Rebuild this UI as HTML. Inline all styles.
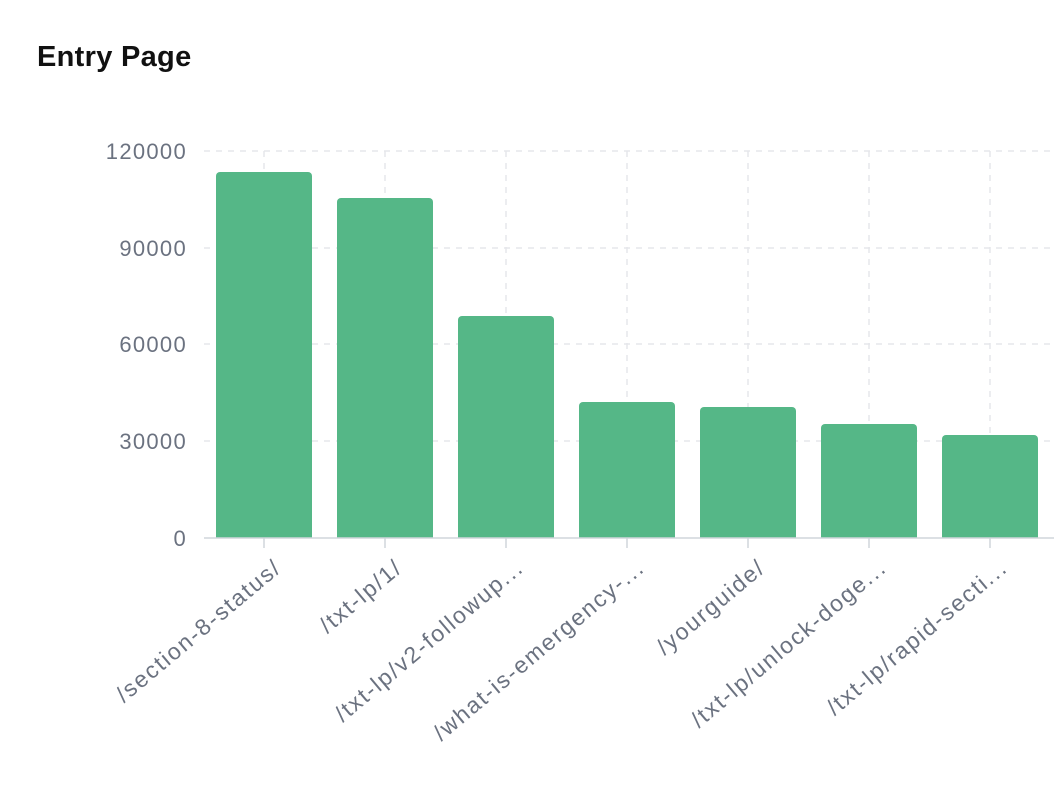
<!DOCTYPE html>
<html><head><meta charset="utf-8"><style>
body{margin:0;background:#fff;width:1054px;height:794px;overflow:hidden;font-family:"Liberation Sans",sans-serif}
</style></head><body>
<svg width="1054" height="794" xmlns="http://www.w3.org/2000/svg" font-family="Liberation Sans, sans-serif">
<text x="37" y="66" font-size="29" font-weight="bold" fill="#111" letter-spacing="0.3">Entry Page</text>
<g stroke="#e5e7eb" stroke-dasharray="6 6" stroke-width="1.5">
<line x1="204" x2="1054" y1="151" y2="151"/><line x1="204" x2="1054" y1="248" y2="248"/>
<line x1="204" x2="1054" y1="344" y2="344"/><line x1="204" x2="1054" y1="441" y2="441"/>
<line x1="264" x2="264" y1="151" y2="538"/><line x1="385" x2="385" y1="151" y2="538"/>
<line x1="506" x2="506" y1="151" y2="538"/><line x1="627" x2="627" y1="151" y2="538"/>
<line x1="748" x2="748" y1="151" y2="538"/><line x1="869" x2="869" y1="151" y2="538"/>
<line x1="990" x2="990" y1="151" y2="538"/>
</g>
<g fill="#55b787">
<path d="M216 538V176a4 4 0 0 1 4-4h88a4 4 0 0 1 4 4V538z"/>
<path d="M337 538V202a4 4 0 0 1 4-4h88a4 4 0 0 1 4 4V538z"/>
<path d="M458 538V320a4 4 0 0 1 4-4h88a4 4 0 0 1 4 4V538z"/>
<path d="M579 538V406a4 4 0 0 1 4-4h88a4 4 0 0 1 4 4V538z"/>
<path d="M700 538V411a4 4 0 0 1 4-4h88a4 4 0 0 1 4 4V538z"/>
<path d="M821 538V428a4 4 0 0 1 4-4h88a4 4 0 0 1 4 4V538z"/>
<path d="M942 538V439a4 4 0 0 1 4-4h88a4 4 0 0 1 4 4V538z"/>
</g>
<line x1="204" x2="1054" y1="538" y2="538" stroke="#d1d5db" stroke-width="1.5"/>
<g stroke="#d1d5db" stroke-width="1.5">
<line x1="264" x2="264" y1="538" y2="548"/><line x1="385" x2="385" y1="538" y2="548"/>
<line x1="506" x2="506" y1="538" y2="548"/><line x1="627" x2="627" y1="538" y2="548"/>
<line x1="748" x2="748" y1="538" y2="548"/><line x1="869" x2="869" y1="538" y2="548"/>
<line x1="990" x2="990" y1="538" y2="548"/>
</g>
<g font-size="22" fill="#6b7280" text-anchor="end" letter-spacing="1.3">
<text x="187" y="159">120000</text><text x="187" y="256">90000</text>
<text x="187" y="352">60000</text><text x="187" y="449">30000</text>
<text x="187" y="546">0</text>
</g>
<g font-size="23" fill="#6b7280" text-anchor="end" letter-spacing="1.8">
<text transform="translate(283,570) rotate(-40)">/section-8-status/</text>
<text transform="translate(404,570) rotate(-40)">/txt-lp/1/</text>
<text transform="translate(525,570) rotate(-40)">/txt-lp/v2-followup...</text>
<text transform="translate(646,570) rotate(-40)">/what-is-emergency-...</text>
<text transform="translate(767,570) rotate(-40)">/yourguide/</text>
<text transform="translate(888,570) rotate(-40)">/txt-lp/unlock-doge...</text>
<text transform="translate(1009,570) rotate(-40)">/txt-lp/rapid-secti...</text>
</g>
</svg>
</body></html>
